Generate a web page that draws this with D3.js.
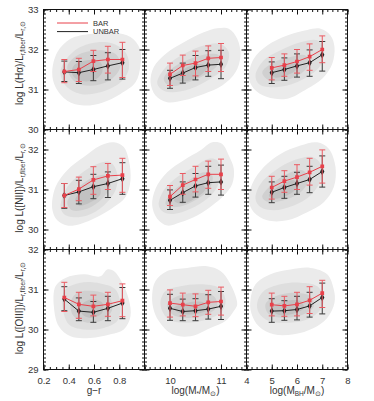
<!DOCTYPE html>
<html>
<head>
<meta charset="utf-8">
<script src="https://cdn.jsdelivr.net/npm/d3@7"></script>
<style>
  body { margin: 0; background: #fff; }
  svg { display: block; font-family: "Liberation Sans", Arial, sans-serif; }
</style>
</head>
<body>
<svg id="chart" width="374" height="401"></svg>
<script>
/* ---- x bins (one per column) ---------------------------------- */
const grBins    = [0.365, 0.48, 0.595, 0.71, 0.825];
const mstarBins = [10.0, 10.25, 10.5, 10.75, 11.0];
const mbhBins   = [5.0, 5.5, 6.0, 6.5, 7.0];

/* ---- axes ------------------------------------------------------- */
const xDomains = [[0.2, 1.0], [9.5, 11.5], [4, 8]];
const xLabels  = [[0.2, 0.4, 0.6, 0.8], [10, 11], [4, 5, 6, 7, 8]];
const xMajorStep = [0.2, 1, 1];
const xMinorStep = [0.05, 0.1, 0.2];
const yDomains = [[30, 33], [29.5, 32.5], [29, 32]];
const yLabels  = [[30, 31, 32, 33], [30, 31, 32], [29, 30, 31, 32]];

/* ---- row 0 : H-alpha ------------------------------------------- */
const haBar     = [[31.45, 31.50, 31.71, 31.75, 31.75], [31.38, 31.60, 31.66, 31.78, 31.80], [31.54, 31.61, 31.70, 31.82, 32.00]];
const haBarLo   = [[31.17, 31.20, 31.45, 31.41, 31.30], [31.10, 31.35, 31.34, 31.45, 31.45], [31.24, 31.33, 31.41, 31.48, 31.67]];
const haBarHi   = [[31.75, 31.78, 31.98, 32.08, 32.18], [31.66, 31.86, 31.96, 32.09, 32.15], [31.80, 31.89, 32.00, 32.14, 32.34]];
const haUnbar   = [[31.44, 31.42, 31.50, 31.59, 31.67], [31.28, 31.41, 31.55, 31.61, 31.63], [31.42, 31.50, 31.59, 31.67, 31.87]];
const haUnbarLo = [[31.20, 31.15, 31.22, 31.24, 31.26], [31.03, 31.16, 31.24, 31.33, 31.27], [31.15, 31.23, 31.31, 31.33, 31.46]];
const haUnbarHi = [[31.71, 31.70, 31.85, 31.92, 32.00], [31.48, 31.66, 31.85, 31.97, 31.98], [31.69, 31.79, 31.89, 31.99, 32.20]];

/* ---- row 1 : [NII] ---------------------------------------------- */
const niiBar     = [[30.85, 31.01, 31.24, 31.34, 31.36], [30.82, 31.11, 31.25, 31.38, 31.38], [31.05, 31.21, 31.31, 31.43, 31.58]];
const niiBarLo   = [[30.55, 30.72, 30.88, 31.00, 30.93], [30.60, 30.88, 30.94, 31.03, 31.00], [30.76, 30.93, 31.00, 31.11, 31.16]];
const niiBarHi   = [[31.15, 31.31, 31.57, 31.65, 31.78], [31.10, 31.40, 31.58, 31.71, 31.76], [31.33, 31.47, 31.62, 31.78, 31.99]];
const niiUnbar   = [[30.85, 30.94, 31.07, 31.15, 31.27], [30.73, 30.92, 31.09, 31.17, 31.19], [30.93, 31.05, 31.15, 31.25, 31.45]];
const niiUnbarLo = [[30.53, 30.64, 30.77, 30.80, 30.88], [30.50, 30.68, 30.81, 30.88, 30.86], [30.67, 30.78, 30.88, 30.92, 31.06]];
const niiUnbarHi = [[31.15, 31.23, 31.38, 31.44, 31.67], [30.99, 31.19, 31.40, 31.58, 31.61], [31.19, 31.33, 31.43, 31.58, 31.84]];

/* ---- row 2 : [OIII] --------------------------------------------- */
const oiiiBar     = [[30.80, 30.63, 30.58, 30.63, 30.72], [30.66, 30.62, 30.58, 30.68, 30.70], [30.62, 30.59, 30.63, 30.73, 30.91]];
const oiiiBarLo   = [[30.45, 30.28, 30.34, 30.33, 30.32], [30.31, 30.34, 30.32, 30.38, 30.36], [30.34, 30.33, 30.34, 30.40, 30.55]];
const oiiiBarHi   = [[31.18, 30.93, 30.86, 30.93, 31.14], [30.99, 30.91, 30.89, 30.98, 31.06], [30.91, 30.83, 30.93, 31.07, 31.23]];
const oiiiUnbar   = [[30.76, 30.46, 30.43, 30.53, 30.66], [30.53, 30.45, 30.47, 30.51, 30.58], [30.46, 30.47, 30.50, 30.59, 30.80]];
const oiiiUnbarLo = [[30.47, 30.22, 30.18, 30.22, 30.27], [30.23, 30.22, 30.22, 30.26, 30.25], [30.18, 30.23, 30.24, 30.31, 30.39]];
const oiiiUnbarHi = [[31.07, 30.79, 30.70, 30.83, 31.05], [30.88, 30.76, 30.77, 30.87, 30.95], [30.77, 30.72, 30.83, 30.93, 31.16]];

/* ---- density contours (outer -> core), vertices in data units ---- */
const haContours = [
  [
    [[0.269,31.43],[0.309,31.93],[0.414,32.27],[0.572,32.39],[0.757,32.42],[0.889,32.31],[0.963,32.02],[0.968,31.60],[0.929,31.18],[0.810,30.89],[0.665,30.67],[0.519,30.60],[0.388,30.72],[0.295,31.06]],
    [[0.335,31.48],[0.467,32.02],[0.705,32.18],[0.849,31.93],[0.876,31.52],[0.810,31.18],[0.651,30.93],[0.493,30.89],[0.374,31.10]],
    [[0.388,31.56],[0.467,31.85],[0.625,31.98],[0.770,31.89],[0.810,31.60],[0.744,31.27],[0.598,31.10],[0.453,31.18]],
    [[0.440,31.60],[0.546,31.73],[0.651,31.68],[0.665,31.43],[0.598,31.23],[0.480,31.23],[0.427,31.39]]
  ],
  [
    [[9.618,31.18],[9.682,31.56],[9.912,31.89],[10.271,32.18],[10.663,32.43],[10.925,32.53],[11.153,32.52],[11.318,32.27],[11.382,31.85],[11.284,31.43],[11.024,31.10],[10.663,30.89],[10.271,30.73],[9.945,30.68],[9.716,30.85]],
    [[9.749,31.18],[9.945,31.60],[10.271,31.89],[10.663,32.10],[10.990,32.14],[11.153,31.93],[11.088,31.56],[10.794,31.27],[10.402,31.02],[10.010,30.93],[9.814,31.02]],
    [[9.878,31.27],[10.075,31.56],[10.402,31.77],[10.761,31.89],[10.957,31.85],[10.925,31.60],[10.663,31.35],[10.271,31.14],[9.976,31.10]],
    [[10.043,31.31],[10.271,31.52],[10.565,31.64],[10.729,31.56],[10.598,31.35],[10.271,31.20]]
  ],
  [
    [[4.091,31.31],[4.289,31.77],[4.820,32.10],[5.612,32.35],[6.404,32.49],[6.931,32.52],[7.327,32.35],[7.485,32.06],[7.394,31.64],[6.998,31.27],[6.404,31.02],[5.612,30.77],[4.820,30.81],[4.289,31.02]],
    [[4.356,31.35],[4.685,31.73],[5.347,31.98],[6.139,32.18],[6.800,32.23],[7.061,31.98],[6.931,31.60],[6.404,31.31],[5.612,31.10],[4.883,31.06],[4.487,31.14]],
    [[4.622,31.43],[5.081,31.68],[5.743,31.81],[6.337,31.85],[6.467,31.64],[6.139,31.39],[5.479,31.23],[4.883,31.23]],
    [[5.018,31.43],[5.477,31.60],[5.941,31.64],[5.941,31.48],[5.477,31.33],[5.081,31.31]]
  ]
];
const niiContours = [
  [
    [[0.269,30.52],[0.295,31.06],[0.388,31.48],[0.519,31.81],[0.651,32.10],[0.757,32.18],[0.836,32.06],[0.876,31.73],[0.889,31.23],[0.850,30.81],[0.757,30.56],[0.625,30.31],[0.493,30.14],[0.388,30.10],[0.309,30.23]],
    [[0.335,30.56],[0.388,31.06],[0.493,31.39],[0.625,31.64],[0.731,31.68],[0.784,31.39],[0.770,30.98],[0.678,30.60],[0.546,30.35],[0.427,30.31],[0.361,30.39]],
    [[0.388,30.68],[0.467,31.02],[0.598,31.31],[0.705,31.35],[0.731,31.10],[0.665,30.77],[0.546,30.52],[0.427,30.48]],
    [[0.453,30.77],[0.546,31.02],[0.638,31.10],[0.651,30.89],[0.572,30.68],[0.480,30.60]]
  ],
  [
    [[9.651,30.60],[9.716,31.02],[9.945,31.43],[10.271,31.73],[10.598,31.98],[10.827,32.18],[11.024,32.14],[11.153,31.85],[11.251,31.52],[11.220,31.14],[11.055,30.85],[10.827,30.60],[10.533,30.35],[10.206,30.18],[9.945,30.10],[9.749,30.27]],
    [[9.780,30.60],[9.878,30.98],[10.141,31.31],[10.467,31.56],[10.761,31.77],[10.925,31.73],[10.990,31.43],[10.925,31.06],[10.729,30.77],[10.402,30.52],[10.075,30.39],[9.878,30.43]],
    [[9.912,30.64],[10.075,30.98],[10.369,31.23],[10.663,31.43],[10.827,31.35],[10.794,31.06],[10.598,30.81],[10.271,30.60],[10.043,30.56]],
    [[10.075,30.73],[10.337,30.98],[10.598,31.14],[10.696,31.02],[10.533,30.81],[10.239,30.64]]
  ],
  [
    [[4.091,30.73],[4.226,31.14],[4.685,31.56],[5.347,31.89],[6.139,32.10],[6.800,32.18],[7.259,32.02],[7.525,31.56],[7.458,31.06],[7.061,30.68],[6.404,30.43],[5.612,30.23],[4.820,30.23],[4.289,30.43]],
    [[4.356,30.77],[4.554,31.14],[5.149,31.48],[5.873,31.73],[6.602,31.81],[6.931,31.64],[6.931,31.23],[6.535,30.85],[5.873,30.60],[5.081,30.48],[4.554,30.56]],
    [[4.622,30.81],[5.018,31.14],[5.612,31.39],[6.206,31.48],[6.467,31.27],[6.139,30.93],[5.479,30.73],[4.883,30.68]],
    [[4.883,30.85],[5.347,31.10],[5.873,31.23],[6.008,31.06],[5.612,30.85],[5.081,30.77]]
  ]
];
const oiiiContours = [
  [
    [[0.282,30.58],[0.295,31.08],[0.374,31.29],[0.519,31.38],[0.651,31.33],[0.705,31.50],[0.757,31.46],[0.823,31.17],[0.876,30.75],[0.889,30.33],[0.836,30.00],[0.731,29.88],[0.572,29.79],[0.414,29.83],[0.321,30.08]],
    [[0.348,30.67],[0.374,31.00],[0.493,31.17],[0.651,31.15],[0.770,31.00],[0.810,30.58],[0.784,30.21],[0.678,30.04],[0.519,30.00],[0.400,30.13]],
    [[0.414,30.67],[0.467,30.92],[0.598,30.96],[0.717,30.83],[0.744,30.50],[0.678,30.25],[0.546,30.17],[0.440,30.33]],
    [[0.493,30.58],[0.572,30.75],[0.665,30.67],[0.665,30.42],[0.572,30.29],[0.507,30.38]]
  ],
  [
    [[9.651,30.88],[9.716,31.21],[9.945,31.46],[10.337,31.54],[10.729,31.58],[10.990,31.46],[11.186,31.13],[11.318,30.63],[11.251,30.46],[11.088,30.21],[10.794,30.04],[10.402,29.83],[10.043,29.88],[9.780,30.21],[9.671,30.54]],
    [[9.814,30.71],[9.912,30.96],[10.206,31.08],[10.598,31.13],[10.957,31.04],[11.088,30.75],[11.024,30.46],[10.729,30.25],[10.271,30.17],[9.976,30.25],[9.847,30.46]],
    [[9.945,30.63],[10.141,30.83],[10.533,30.92],[10.859,30.83],[10.925,30.58],[10.729,30.38],[10.337,30.29],[10.043,30.38]],
    [[10.075,30.54],[10.337,30.67],[10.663,30.67],[10.729,30.50],[10.467,30.38],[10.173,30.42]]
  ],
  [
    [[4.158,30.75],[4.356,31.13],[4.950,31.38],[5.743,31.50],[6.535,31.54],[7.196,31.38],[7.458,31.00],[7.485,30.67],[7.196,30.29],[6.665,30.04],[5.873,29.88],[5.081,29.88],[4.487,30.08],[4.186,30.42]],
    [[4.424,30.67],[4.685,30.96],[5.347,31.13],[6.139,31.17],[6.800,31.08],[7.061,30.79],[6.931,30.50],[6.404,30.25],[5.612,30.17],[4.883,30.21],[4.487,30.42]],
    [[4.752,30.63],[5.149,30.83],[5.873,30.92],[6.535,30.83],[6.665,30.58],[6.269,30.38],[5.477,30.29],[4.883,30.38]],
    [[5.018,30.54],[5.545,30.71],[6.139,30.71],[6.269,30.54],[5.743,30.38],[5.216,30.38]]
  ]
];

/* ---- layout ----------------------------------------------------- */
const colX = [43.5, 144.5, 246.5, 347.5];
const rowY = [9.5, 129.5, 249.5, 369.5];
const contourFill = ["#ebebeb", "#dedede", "#d0d0d0", "#c2c2c2"];
const RED = "#e8404a";
const BLACK = "#222";

const xBins = [grBins, mstarBins, mbhBins];
const rows = [
  { bar: haBar, barLo: haBarLo, barHi: haBarHi, unbar: haUnbar, unbarLo: haUnbarLo, unbarHi: haUnbarHi, contours: haContours, ion: "H\u03B1" },
  { bar: niiBar, barLo: niiBarLo, barHi: niiBarHi, unbar: niiUnbar, unbarLo: niiUnbarLo, unbarHi: niiUnbarHi, contours: niiContours, ion: "[NII]" },
  { bar: oiiiBar, barLo: oiiiBarLo, barHi: oiiiBarHi, unbar: oiiiUnbar, unbarLo: oiiiUnbarLo, unbarHi: oiiiUnbarHi, contours: oiiiContours, ion: "[OIII]" }
];

const svg = d3.select("#chart");
const defs = svg.append("defs");

function ticksBetween(dom, step) {
  return d3.range(Math.ceil(dom[0] / step - 1e-6), Math.floor(dom[1] / step + 1e-6) + 1)
    .map((k) => +(k * step).toFixed(4));
}

rows.forEach((row, r) => {
  xBins.forEach((bins, c) => {
    const x = d3.scaleLinear().domain(xDomains[c]).range([colX[c], colX[c + 1]]);
    const y = d3.scaleLinear().domain(yDomains[r]).range([rowY[r + 1], rowY[r]]);
    const id = `clip-${r}-${c}`;
    defs.append("clipPath").attr("id", id).append("rect")
      .attr("x", colX[c]).attr("y", rowY[r])
      .attr("width", colX[c + 1] - colX[c]).attr("height", rowY[r + 1] - rowY[r]);

    const g = svg.append("g").attr("clip-path", `url(#${id})`);

    // density contours
    const shape = d3.line().x((d) => x(d[0])).y((d) => y(d[1]))
      .curve(d3.curveCatmullRomClosed.alpha(0.5));
    g.selectAll("path.ct").data(row.contours[c]).join("path")
      .attr("class", "ct")
      .attr("d", shape)
      .attr("fill", (d, i) => contourFill[i]);

    // series: unbarred first, barred on top
    const series = [
      { mean: row.unbar[c], lo: row.unbarLo[c], hi: row.unbarHi[c], color: BLACK, bar: "#3a3a3a", sym: d3.symbolDiamond, size: 16 },
      { mean: row.bar[c], lo: row.barLo[c], hi: row.barHi[c], color: RED, bar: "#ea5a62", sym: d3.symbolSquare, size: 14 }
    ];
    series.forEach((s) => {
      const pts = bins.map((b, i) => ({ x: b, m: s.mean[i], lo: s.lo[i], hi: s.hi[i] }));
      const eb = g.append("g").attr("stroke", s.bar).attr("stroke-width", 1);
      eb.selectAll("line.v").data(pts).join("line").attr("class", "v")
        .attr("x1", (d) => x(d.x)).attr("x2", (d) => x(d.x))
        .attr("y1", (d) => y(d.lo)).attr("y2", (d) => y(d.hi));
      ["lo", "hi"].forEach((k) => {
        eb.selectAll(`line.c${k}`).data(pts).join("line").attr("class", `c${k}`)
          .attr("x1", (d) => x(d.x) - 3).attr("x2", (d) => x(d.x) + 3)
          .attr("y1", (d) => y(d[k])).attr("y2", (d) => y(d[k]));
      });
      g.append("path").datum(pts)
        .attr("fill", "none").attr("stroke", s.color).attr("stroke-width", 1)
        .attr("d", d3.line().x((d) => x(d.x)).y((d) => y(d.m)));
      g.selectAll(null).data(pts).join("path")
        .attr("transform", (d) => `translate(${x(d.x)},${y(d.m)})`)
        .attr("d", d3.symbol().type(s.sym).size(s.size))
        .attr("fill", s.color);
    });

    // inward ticks on all four sides
    const xMaj = ticksBetween(xDomains[c], xMajorStep[c]);
    const xMin = ticksBetween(xDomains[c], xMinorStep[c]);
    const yMaj = ticksBetween(yDomains[r], 1);
    const yMin = ticksBetween(yDomains[r], 0.1);
    const ax = svg.append("g").attr("class", "ax");
    const put = (gen, tx, ty) => ax.append("g").attr("transform", `translate(${tx},${ty})`).call(gen);
    [[xMaj, 5], [xMin, 2.5]].forEach(([vals, len]) => {
      put(d3.axisBottom(x).tickValues(vals).tickSize(-len).tickFormat(""), 0, rowY[r + 1]);
      put(d3.axisTop(x).tickValues(vals).tickSize(-len).tickFormat(""), 0, rowY[r]);
    });
    [[yMaj, 5], [yMin, 2.5]].forEach(([vals, len]) => {
      put(d3.axisLeft(y).tickValues(vals).tickSize(-len).tickFormat(""), colX[c], 0);
      put(d3.axisRight(y).tickValues(vals).tickSize(-len).tickFormat(""), colX[c + 1], 0);
    });

    // tick labels on outer edges
    if (r === rows.length - 1) {
      put(d3.axisBottom(x).tickValues(xLabels[c]).tickSize(0).tickPadding(8)
        .tickFormat(c === 0 ? d3.format(".1f") : d3.format("d")), 0, rowY[r + 1]);
    }
    if (c === 0) {
      put(d3.axisLeft(y).tickValues(yLabels[r]).tickSize(0).tickPadding(5)
        .tickFormat(d3.format("d")), colX[0], 0);
    }

    svg.append("rect")
      .attr("x", colX[c]).attr("y", rowY[r])
      .attr("width", colX[c + 1] - colX[c]).attr("height", rowY[r + 1] - rowY[r])
      .attr("fill", "none").attr("stroke", "#111").attr("stroke-width", 1);
  });
});

svg.selectAll(".ax .domain").remove();
svg.selectAll(".ax .tick line").attr("stroke", "#111");
svg.selectAll(".ax text").attr("font-size", 9.5).attr("fill", "#333")
  .attr("font-family", "'Liberation Sans', Arial, sans-serif");

/* ---- y titles --------------------------------------------------- */
const yTitleCenter = [63, 188, 308];
rows.forEach((row, r) => {
  const t = svg.append("text")
    .attr("transform", `translate(23,${yTitleCenter[r]}) rotate(-90)`)
    .attr("text-anchor", "middle").attr("font-size", 10).attr("fill", "#333");
  t.append("tspan").text(`log L(${row.ion})/L`);
  t.append("tspan").attr("font-size", 6.5).attr("dy", 2).text("r,fiber");
  t.append("tspan").attr("dy", -2).text("/L");
  t.append("tspan").attr("font-size", 6.5).attr("dy", 2).text("r,\u2299");
});

/* ---- x titles --------------------------------------------------- */
const xTitleY = 394;
const xt = (c) => svg.append("text")
  .attr("x", (colX[c] + colX[c + 1]) / 2).attr("y", xTitleY)
  .attr("text-anchor", "middle").attr("font-size", 10).attr("fill", "#333");
xt(0).text("g\u2212r");
const t1 = xt(1);
t1.append("tspan").text("log(M");
t1.append("tspan").attr("font-size", 6.5).attr("dy", 2).text("*");
t1.append("tspan").attr("dy", -2).text("/M");
t1.append("tspan").attr("font-size", 6.5).attr("dy", 2).text("\u2299");
t1.append("tspan").attr("dy", -2).text(")");
const t2 = xt(2);
t2.append("tspan").text("log(M");
t2.append("tspan").attr("font-size", 6.5).attr("dy", 2).text("BH");
t2.append("tspan").attr("dy", -2).text("/M");
t2.append("tspan").attr("font-size", 6.5).attr("dy", 2).text("\u2299");
t2.append("tspan").attr("dy", -2).text(")");

/* ---- legend ----------------------------------------------------- */
const legend = [{ name: "BAR", color: RED }, { name: "UNBAR", color: BLACK }];
const lg = svg.append("g").attr("transform", "translate(57,23)");
legend.forEach((d, i) => {
  lg.append("line").attr("x1", 0).attr("x2", 31).attr("y1", i * 8.6).attr("y2", i * 8.6)
    .attr("stroke", d.color).attr("stroke-width", 1);
  lg.append("text").attr("x", 36).attr("y", i * 8.6 + 2.8)
    .attr("font-size", 7.5).attr("fill", "#333").text(d.name);
});
</script>
</body>
</html>
